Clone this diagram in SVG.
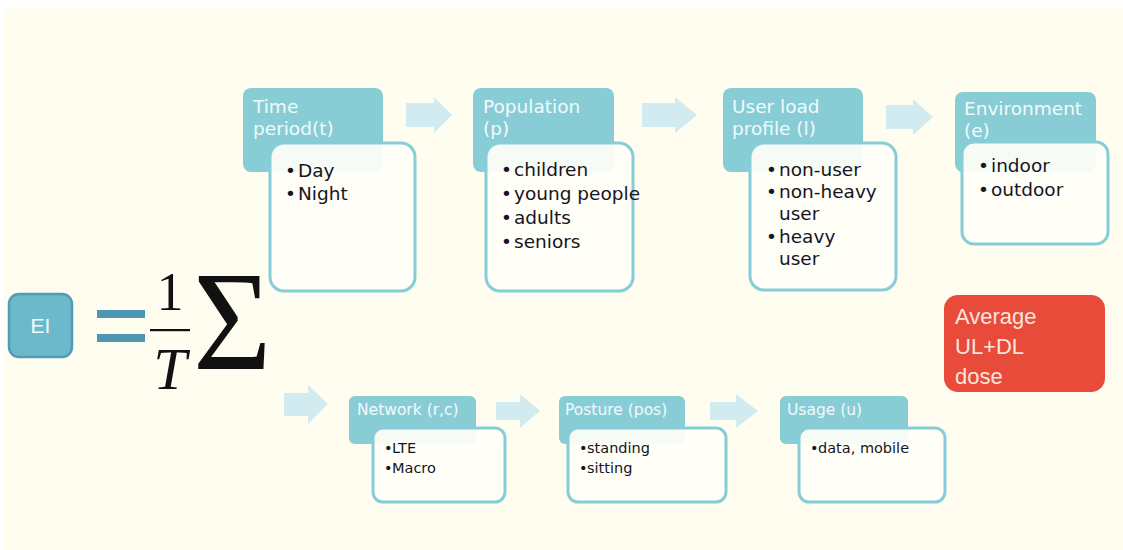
<svg xmlns="http://www.w3.org/2000/svg" width="1123" height="550" viewBox="0 0 1123 550">
<defs>
<style>
.hdr{fill:#88CDD6;}
.box{fill:#FFFEF8;fill-opacity:0.93;stroke:#86CDD8;stroke-width:3;}
.ht{font-family:"DejaVu Sans",Verdana,sans-serif;font-size:18.5px;fill:#F2FAFB;}
.hs{font-family:"DejaVu Sans",Verdana,sans-serif;font-size:15.5px;fill:#F2FAFB;}
.bt{font-family:"DejaVu Sans",Verdana,sans-serif;font-size:18.5px;fill:#15151f;}
.bs{font-family:"DejaVu Sans",Verdana,sans-serif;font-size:14.5px;fill:#15151f;}
.arr{fill:#D1EBF1;}
.math{font-family:"Liberation Serif","Times New Roman",serif;fill:#111;}
</style>
</defs>
<rect x="3" y="8" width="1120" height="542" fill="#FFFDF0"/>

<g id="connectors">
<path class="arr" d="M406,103 H434 V97 L452,115 L434,133 V127 H406 Z"/>
<path class="arr" d="M642,103 H675 V97 L697,115 L675,133 V127 H642 Z"/>
<path class="arr" d="M886,105 H913 V99 L933,117 L913,135 V129 H886 Z"/>
<path class="arr" d="M284,393 H308 V385 L328,404 L308,424 V416 H284 Z"/>
<path class="arr" d="M496,402 H520 V394 L540,411 L520,428 V420 H496 Z"/>
<path class="arr" d="M710,402 H736 V394 L758,411 L736,428 V420 H710 Z"/>
</g>

<g id="ei">
<rect x="9" y="294" width="63" height="63" rx="10" fill="#6DB9CC" stroke="#4F9DB3" stroke-width="2.5"/>
<text x="40.5" y="333" text-anchor="middle" font-family="Liberation Sans,Arial,sans-serif" font-size="21" fill="#F4FBFC">EI</text>
</g>

<g id="formula">
<rect x="97" y="310" width="48" height="8" fill="#4E97B0"/>
<rect x="97" y="334" width="48" height="8" fill="#4E97B0"/>
<text class="math" x="170" y="310" text-anchor="middle" font-size="54">1</text>
<rect x="150" y="329" width="40" height="2.2" fill="#111"/>
<text class="math" x="170" y="389" text-anchor="middle" font-size="60" font-style="italic">T</text>
<text class="math" x="0" y="0" font-size="142" transform="translate(193,369) scale(0.95,1)">Σ</text>
</g>

<g id="node-time">
<rect class="hdr" x="243" y="88" width="140" height="84" rx="8"/>
<rect class="box" x="270" y="143" width="145" height="148" rx="14"/>
<text class="ht" x="253" y="113">Time</text>
<text class="ht" x="253" y="135">period(t)</text>
<text class="bt" y="177"><tspan x="285">•</tspan><tspan x="298">Day</tspan></text>
<text class="bt" y="200"><tspan x="285">•</tspan><tspan x="298">Night</tspan></text>
</g>

<g id="node-population">
<rect class="hdr" x="473" y="88" width="141" height="84" rx="8"/>
<rect class="box" x="486" y="143" width="147" height="148" rx="14"/>
<text class="ht" x="483" y="113">Population</text>
<text class="ht" x="483" y="135">(p)</text>
<text class="bt" y="176"><tspan x="501">•</tspan><tspan x="514">children</tspan></text>
<text class="bt" y="200"><tspan x="501">•</tspan><tspan x="514">young people</tspan></text>
<text class="bt" y="224"><tspan x="501">•</tspan><tspan x="514">adults</tspan></text>
<text class="bt" y="248"><tspan x="501">•</tspan><tspan x="514">seniors</tspan></text>
</g>

<g id="node-userload">
<rect class="hdr" x="723" y="88" width="140" height="84" rx="8"/>
<rect class="box" x="750" y="143" width="146" height="147" rx="14"/>
<text class="ht" x="732" y="113">User load</text>
<text class="ht" x="732" y="135">profile (l)</text>
<text class="bt" y="176"><tspan x="766">•</tspan><tspan x="779">non-user</tspan></text>
<text class="bt" y="198"><tspan x="766">•</tspan><tspan x="779">non-heavy</tspan></text>
<text class="bt" x="779" y="220">user</text>
<text class="bt" y="243"><tspan x="766">•</tspan><tspan x="779">heavy</tspan></text>
<text class="bt" x="779" y="265">user</text>
</g>

<g id="node-environment">
<rect class="hdr" x="955" y="92" width="141" height="80" rx="8"/>
<rect class="box" x="962" y="142" width="146" height="102" rx="12"/>
<text class="ht" x="964" y="115">Environment</text>
<text class="ht" x="964" y="137">(e)</text>
<text class="bt" y="172"><tspan x="978">•</tspan><tspan x="991">indoor</tspan></text>
<text class="bt" y="196"><tspan x="978">•</tspan><tspan x="991">outdoor</tspan></text>
</g>

<g id="node-network">
<rect class="hdr" x="349" y="396" width="127" height="48" rx="6"/>
<rect class="box" x="373" y="428" width="132" height="74" rx="10"/>
<text class="hs" x="357" y="415">Network (r,c)</text>
<text class="bs" y="453"><tspan x="384">•</tspan><tspan x="392">LTE</tspan></text>
<text class="bs" y="473"><tspan x="384">•</tspan><tspan x="392">Macro</tspan></text>
</g>

<g id="node-posture">
<rect class="hdr" x="559" y="396" width="126" height="48" rx="6"/>
<rect class="box" x="568" y="428" width="158" height="74" rx="10"/>
<text class="hs" x="565" y="415">Posture (pos)</text>
<text class="bs" y="453"><tspan x="579">•</tspan><tspan x="587">standing</tspan></text>
<text class="bs" y="473"><tspan x="579">•</tspan><tspan x="587">sitting</tspan></text>
</g>

<g id="node-usage">
<rect class="hdr" x="780" y="396" width="128" height="48" rx="6"/>
<rect class="box" x="799" y="428" width="146" height="74" rx="10"/>
<text class="hs" x="787" y="415">Usage (u)</text>
<text class="bs" y="453"><tspan x="810">•</tspan><tspan x="818">data, mobile</tspan></text>
</g>

<g id="node-dose">
<rect x="944" y="295" width="161" height="97" rx="14" fill="#E84B3A"/>
<text font-family="Liberation Sans,Arial,sans-serif" font-size="22" fill="#F8E6DF" x="955" y="324">Average</text>
<text font-family="Liberation Sans,Arial,sans-serif" font-size="22" fill="#F8E6DF" x="955" y="354">UL+DL</text>
<text font-family="Liberation Sans,Arial,sans-serif" font-size="22" fill="#F8E6DF" x="955" y="384">dose</text>
</g>
</svg>
